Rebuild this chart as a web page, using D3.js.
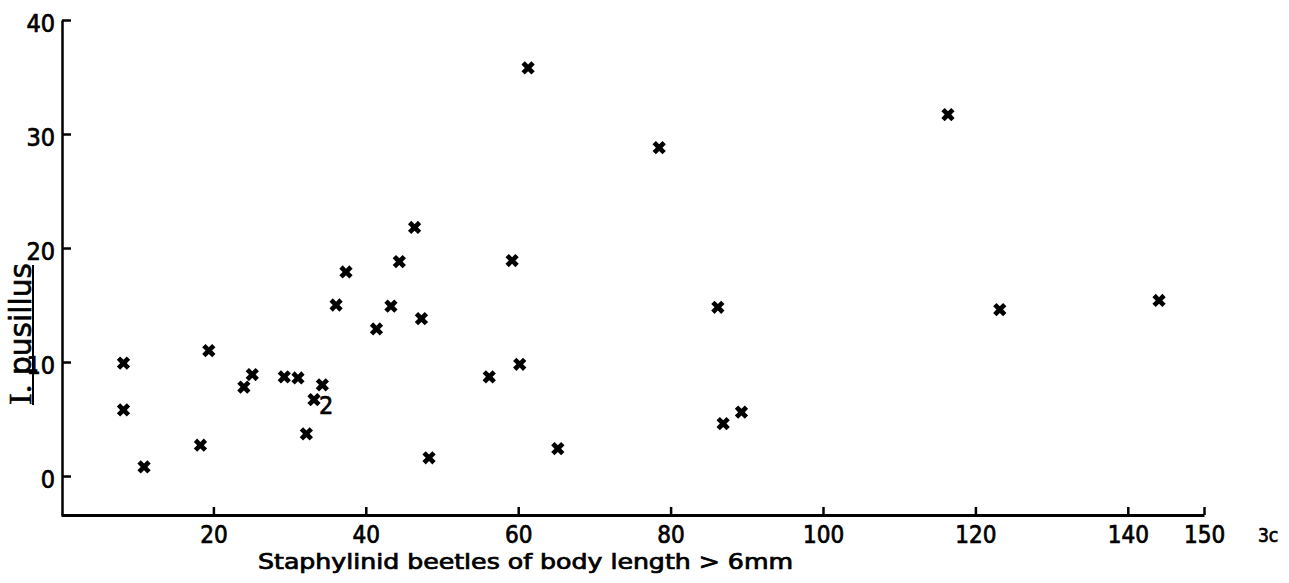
<!DOCTYPE html>
<html><head><meta charset="utf-8">
<script src="https://cdn.jsdelivr.net/npm/d3@7"></script>
<style>html,body{margin:0;padding:0;background:#fff;} svg{display:block;background:#fff;}</style>
</head><body>
<svg id="chart" width="1289" height="583"></svg>
<script>
// Data
const xValues = [8.2, 8.2, 10.9, 18.3, 19.4, 24.0, 25.1, 29.3, 31.1, 34.3, 33.2, 32.2,
                 36.1, 37.4, 41.4, 43.3, 44.4, 46.4, 47.3, 48.3, 56.2, 59.2, 60.2, 61.3,
                 65.2, 78.5, 86.2, 86.9, 89.3, 116.4, 123.2, 144.1];
const yValues = [9.9, 5.8, 0.8, 2.7, 11.0, 7.8, 8.9, 8.7, 8.6, 8.0, 6.7, 3.7,
                 15.0, 17.9, 12.9, 14.9, 18.8, 21.8, 13.8, 1.6, 8.7, 18.9, 9.8, 35.8,
                 2.4, 28.8, 14.8, 4.6, 5.6, 31.7, 14.6, 15.4];
const pointNotes = ["", "", "", "", "", "", "", "", "", "", "2", "",
                    "", "", "", "", "", "", "", "", "", "", "", "",
                    "", "", "", "", "", "", "", ""];
const xTickValues = [20, 40, 60, 80, 100, 120, 140, 150];
const yTickValues = [0, 10, 20, 30, 40];
const xTitle = "Staphylinid beetles of body length > 6mm";
const yTitleInitial = "I.";
const yTitleRest = " pusillus";
const figureTag = "3c";

const points = xValues.map((v, i) => ({x: v, y: yValues[i], note: pointNotes[i]}));

const svg = d3.select("#chart");
const font = "'DejaVu Sans Condensed', 'DejaVu Sans', sans-serif";

const x = d3.scaleLinear().domain([0, 150]).range([61, 1204]);
const y = d3.scaleLinear().domain([-3.42, 40]).range([515, 20]);

function inkText(sel, size) {
  sel.attr("fill", "#000").attr("stroke", "#000").attr("stroke-width", 0.7)
     .style("font-family", font).style("font-size", size + "px");
}

// X axis
const gx = svg.append("g")
  .attr("transform", `translate(0,${y(-3.42)})`)
  .call(d3.axisBottom(x).tickValues(xTickValues).tickFormat(d3.format("d"))
        .tickSizeInner(-8).tickSizeOuter(0).tickPadding(11));
gx.select(".domain").attr("stroke", "#000").attr("stroke-width", 3);
gx.selectAll(".tick line").attr("stroke", "#000").attr("stroke-width", 2.5);
gx.selectAll(".tick text").call(inkText, 24);

// Y axis
const gy = svg.append("g")
  .attr("transform", `translate(${x(0) + 1},0)`)
  .call(d3.axisLeft(y).tickValues(yTickValues).tickFormat(d3.format("d"))
        .tickSizeInner(-9).tickSizeOuter(0).tickPadding(7));
gy.select(".domain").attr("stroke", "#000").attr("stroke-width", 2.5);
gy.selectAll(".tick line").attr("stroke", "#000").attr("stroke-width", 2.5);
gy.selectAll(".tick text").attr("dy", "0.45em").call(inkText, 25);

// Markers
const cross = d3.symbol().type(d3.symbolCross).size(110);
svg.append("g").selectAll("path").data(points).join("path")
  .attr("d", cross)
  .attr("transform", d => `translate(${x(d.x)},${y(d.y)}) rotate(45)`)
  .attr("fill", "#000");

svg.append("g").selectAll("text").data(points.filter(d => d.note)).join("text")
  .attr("x", d => x(d.x) + 5)
  .attr("y", d => y(d.y) + 14)
  .text(d => d.note)
  .call(inkText, 25);

// X title
svg.append("text")
  .attr("x", 258).attr("y", 569)
  .attr("textLength", 535).attr("lengthAdjust", "spacingAndGlyphs")
  .text(xTitle)
  .call(inkText, 21);

// Figure tag
svg.append("text")
  .attr("x", 1258).attr("y", 542)
  .text(figureTag)
  .call(inkText, 19);

// Y title (rotated, underlined)
const yt = svg.append("text")
  .attr("transform", "translate(31,405) rotate(-90)")
  .attr("textLength", 142).attr("lengthAdjust", "spacingAndGlyphs")
  .attr("fill", "#000").attr("stroke", "#000").attr("stroke-width", 0.6)
  .style("font-size", "30px");
yt.append("tspan").style("font-family", "'Liberation Serif', serif").style("font-size", "32px").text(yTitleInitial);
yt.append("tspan").style("font-family", font).text(yTitleRest);
svg.append("line")
  .attr("x1", 33).attr("x2", 33).attr("y1", 405).attr("y2", 265)
  .attr("stroke", "#000").attr("stroke-width", 2);
</script>
</body></html>
